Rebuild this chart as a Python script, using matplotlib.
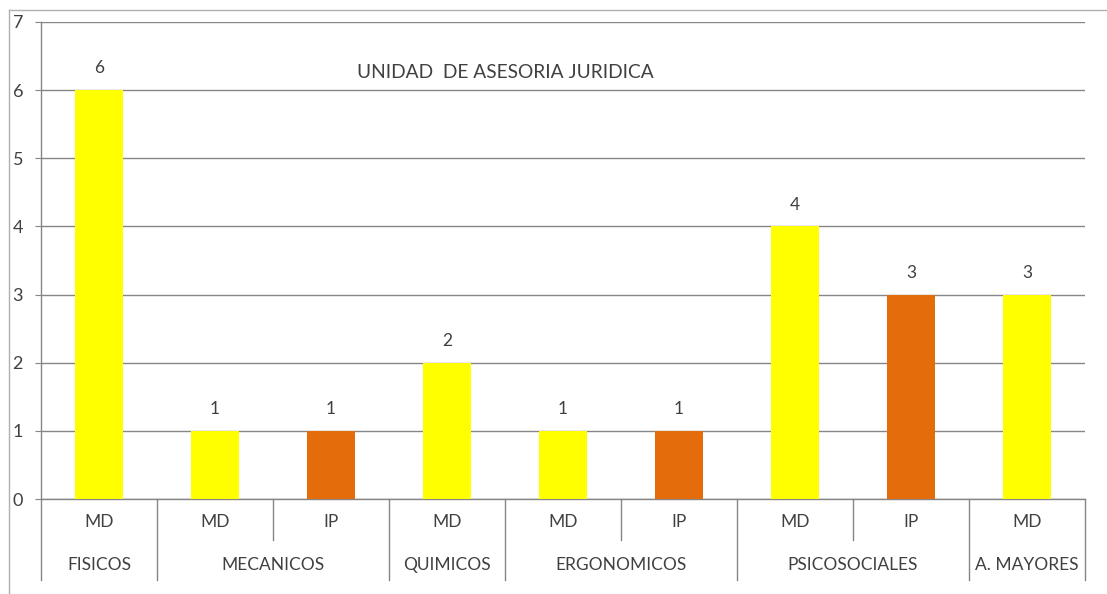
import matplotlib
matplotlib.use("Agg")
import matplotlib.pyplot as plt
from matplotlib.lines import Line2D
import matplotlib.transforms as mtransforms

# Data
sub_labels = ["MD", "MD", "IP", "MD", "MD", "IP", "MD", "IP", "MD"]
values = [6, 1, 1, 2, 1, 1, 4, 3, 3]
groups = ["FISICOS", "MECANICOS", "QUIMICOS", "ERGONOMICOS", "PSICOSOCIALES", "A. MAYORES"]
group_sizes = [1, 2, 1, 2, 2, 1]
title = "UNIDAD  DE ASESORIA JURIDICA"

MD_COLOR = "#FFFF00"
IP_COLOR = "#E46C0A"
GRID_COLOR = "#868686"
TEXT_COLOR = "#404040"

plt.rcParams["font.family"] = ["Lato", "DejaVu Sans"]

W, H = 1107, 594
fig = plt.figure(figsize=(W / 100, H / 100), dpi=100)
ax = fig.add_axes([41 / W, (H - 499) / H, (1085 - 41) / W, (499 - 22) / H])

x = list(range(len(values)))
colors = [MD_COLOR if s == "MD" else IP_COLOR for s in sub_labels]
bars = ax.bar(x, values, width=0.41, color=colors, zorder=3)
ax.bar_label(bars, padding=10, fontsize=12.5, color=TEXT_COLOR)

ax.set_xlim(-0.5, len(values) - 0.5)
ax.set_ylim(0, 7)
ax.set_yticks(range(0, 8))
ax.yaxis.grid(True, color=GRID_COLOR, linewidth=1, zorder=0)
ax.set_xticks([])
ax.tick_params(axis="y", length=4.5, color=GRID_COLOR, labelsize=13,
               labelcolor=TEXT_COLOR, pad=16)
for lbl in ax.get_yticklabels():
    lbl.set_horizontalalignment("left")

for side in ["top", "right"]:
    ax.spines[side].set_visible(False)
for side in ["left", "bottom"]:
    ax.spines[side].set_color(GRID_COLOR)
    ax.spines[side].set_linewidth(1)

ax.text((505 - 41) / (1085 - 41), (499 - 72) / (499 - 22), title,
        transform=ax.transAxes, ha="center", va="center",
        fontsize=13.8, color=TEXT_COLOR)

# two-level category axis
trans = mtransforms.blended_transform_factory(ax.transData, ax.transAxes)
px = 1 / (499 - 22)  # one pixel in axes fraction (vertical)
y_sub = -23 * px
y_grp = -66 * px
y_short = -41 * px
y_long = -81 * px

for i, s in enumerate(sub_labels):
    ax.text(i, y_sub, s, transform=trans, ha="center", va="center",
            fontsize=12.5, color=TEXT_COLOR)

start = 0
boundaries = [-0.5]
for g, n in zip(groups, group_sizes):
    center = start + (n - 1) / 2
    ax.text(center, y_grp, g, transform=trans, ha="center", va="center",
            fontsize=12.5, color=TEXT_COLOR)
    for k in range(1, n):
        xb = start + k - 0.5
        ax.add_line(Line2D([xb, xb], [0, y_short], transform=trans,
                           color=GRID_COLOR, lw=1, clip_on=False))
    start += n
    boundaries.append(start - 0.5)

for xb in boundaries:
    ax.add_line(Line2D([xb, xb], [0, y_long], transform=trans,
                       color=GRID_COLOR, lw=1, clip_on=False))

# outer chart frame
fig.add_artist(Line2D([9 / W, 9 / W], [0, 1 - 10 / H], transform=fig.transFigure,
                      color="#B0B0B0", lw=1))
fig.add_artist(Line2D([9 / W, 1], [1 - 10 / H, 1 - 10 / H], transform=fig.transFigure,
                      color="#B0B0B0", lw=1))

fig.savefig("out.png", dpi=100)
